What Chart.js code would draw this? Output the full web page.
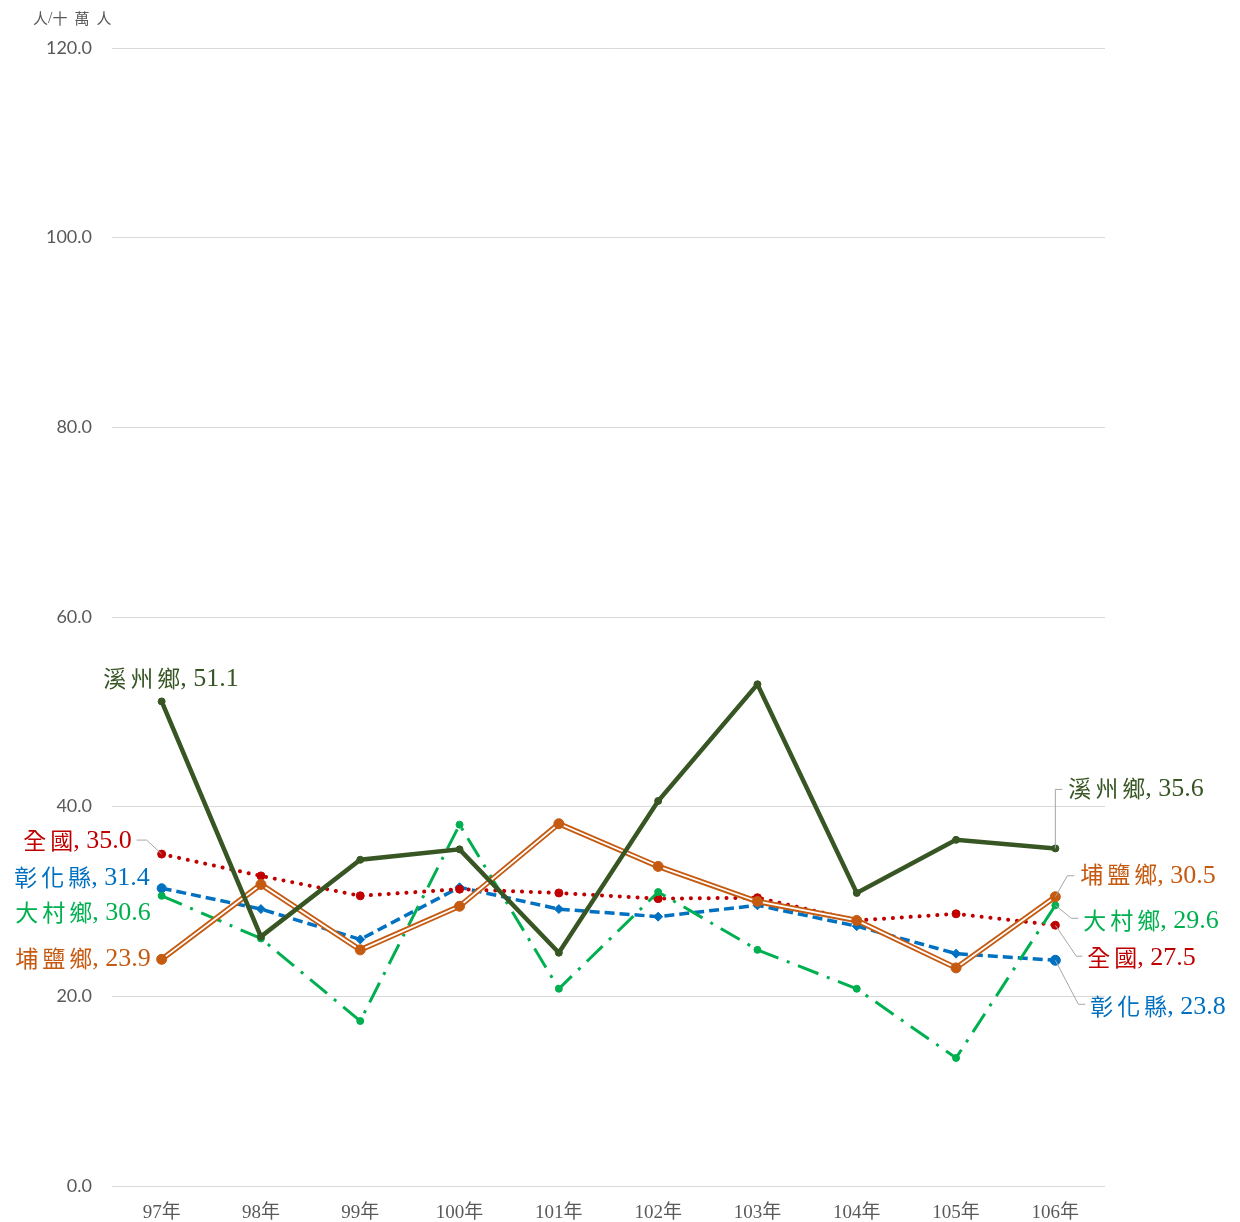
<!DOCTYPE html>
<html>
<head>
<meta charset="utf-8">
<script src="https://cdn.jsdelivr.net/npm/chart.js@4.4.1/dist/chart.umd.min.js"></script>
<style>
  html, body { margin: 0; padding: 0; background: #ffffff; }
  #wrap { width: 1240px; height: 1222px; }
</style>
</head>
<body>
<div id="wrap"><canvas id="c" width="1240" height="1222"></canvas></div>
<script>
// ---- data ----
const years = ["97年", "98年", "99年", "100年", "101年", "102年", "103年", "104年", "105年", "106年"];
const xizhou = [51.1, 26.3, 34.4, 35.5, 24.6, 40.6, 52.9, 30.9, 36.5, 35.6];   // 溪州鄉
const national = [35.0, 32.7, 30.6, 31.3, 30.9, 30.3, 30.4, 28.0, 28.7, 27.5]; // 全國
const changhua = [31.4, 29.2, 26.0, 31.5, 29.2, 28.4, 29.6, 27.4, 24.5, 23.8]; // 彰化縣
const dacun = [30.6, 26.1, 17.4, 38.1, 20.8, 31.0, 24.9, 20.8, 13.5, 29.6];    // 大村鄉
const puyan = [23.9, 31.8, 24.9, 29.5, 38.2, 33.7, 30.0, 28.0, 23.0, 30.5];    // 埔鹽鄉
const yTicks = [0, 20, 40, 60, 80, 100, 120];
const unitLabel = "人/十萬人";

const C_XZ = "#375623", C_NA = "#C00000", C_CH = "#0070C0", C_DC = "#00B050", C_PY = "#C55A11";

// ---- mixed-font text helper ----
const CJK_FONT = '"Noto Sans CJK TC", "Noto Sans CJK SC", sans-serif';
const LAT_FONT = '"Liberation Serif", "DejaVu Serif", serif';
function isCJK(ch) { return ch.charCodeAt(0) > 0x2E80; }
function layoutMixed(ctx, text, cjkSize, latSize, cjkSpace) {
  const chars = Array.from(text);
  const parts = [];
  let w = 0;
  chars.forEach((ch, k) => {
    const c = isCJK(ch);
    ctx.font = (c ? cjkSize : latSize) + 'px ' + (c ? CJK_FONT : LAT_FONT);
    const cw = ctx.measureText(ch).width;
    parts.push({ ch, c, x: w });
    w += cw;
    if (k + 1 < chars.length && (c || isCJK(chars[k + 1]))) {
      if (c && isCJK(chars[k + 1])) w += cjkSpace;
    }
  });
  return { parts, w };
}
function drawMixed(ctx, text, x, y, cjkSize, latSize, color, align, cjkSpace) {
  const L = layoutMixed(ctx, text, cjkSize, latSize, cjkSpace);
  const x0 = align === 'right' ? x - L.w : x;
  ctx.fillStyle = color;
  ctx.textBaseline = 'middle';
  ctx.textAlign = 'left';
  for (const p of L.parts) {
    ctx.font = (p.c ? cjkSize : latSize) + 'px ' + (p.c ? CJK_FONT : LAT_FONT);
    ctx.fillText(p.ch, x0 + p.x, p.c ? y : y + 1);
  }
}

// label layout: dataset index, point index, offsets, alignment, leader path (offsets from point)
const labelLayout = [
  { ds: 0, name: "溪州鄉", color: C_XZ, i: 0, dx: 77, dy: -23, align: 'right', leader: null },
  { ds: 5, name: "全國", color: C_NA, i: 0, dx: -30, dy: -14, align: 'right', leader: [[-15, -14], [-25, -14]] },
  { ds: 6, name: "彰化縣", color: C_CH, i: 0, dx: -12, dy: -11, align: 'right', leader: null },
  { ds: 4, name: "大村鄉", color: C_DC, i: 0, dx: -11, dy: 16, align: 'right', leader: null },
  { ds: 1, name: "埔鹽鄉", color: C_PY, i: 0, dx: -11, dy: -1, align: 'right', leader: null },
  { ds: 0, name: "溪州鄉", color: C_XZ, i: 9, dx: 13, dy: -60, align: 'left', leader: [[0, -59], [7, -59]] },
  { ds: 1, name: "埔鹽鄉", color: C_PY, i: 9, dx: 25, dy: -22, align: 'left', leader: [[12, -21], [19, -21]] },
  { ds: 4, name: "大村鄉", color: C_DC, i: 9, dx: 28, dy: 15, align: 'left', leader: [[16, 13], [23, 13]] },
  { ds: 5, name: "全國", color: C_NA, i: 9, dx: 32, dy: 32, align: 'left', leader: [[21, 31], [27, 31]] },
  { ds: 6, name: "彰化縣", color: C_CH, i: 9, dx: 35, dy: 46, align: 'left', leader: [[23, 44], [30, 44]] }
];

const labelPlugin = {
  id: 'labels',
  afterDatasetsDraw(chart) {
    const ctx = chart.ctx;
    ctx.save();
    for (const L of labelLayout) {
      const meta = chart.getDatasetMeta(L.ds);
      const pt = meta.data[L.i];
      const val = chart.data.datasets[L.ds].data[L.i];
      const px = pt.x, py = pt.y;
      if (L.leader) {
        ctx.strokeStyle = '#A6A6A6';
        ctx.lineWidth = 1;
        ctx.beginPath();
        ctx.moveTo(px, py);
        for (const [ox, oy] of L.leader) ctx.lineTo(px + ox, py + oy);
        ctx.stroke();
      }
      const text = L.name + ", " + val.toFixed(1);
      drawMixed(ctx, text, px + L.dx, py + L.dy, 23, 26, L.color, L.align, 4);
    }
    // unit label
    drawMixed(ctx, unitLabel, 33, 18, 15, 16, '#595959', 'left', 7);
    ctx.restore();
  }
};

const ctx = document.getElementById('c').getContext('2d');
new Chart(ctx, {
  type: 'line',
  data: {
    labels: years,
    datasets: [
      { label: "溪州鄉", data: xizhou, borderColor: C_XZ, backgroundColor: C_XZ, borderWidth: 4.5,
        pointRadius: 3.5, pointBackgroundColor: C_XZ, pointBorderColor: C_XZ, pointBorderWidth: 1, tension: 0 },
      { label: "埔鹽鄉", data: puyan, showLine: false, pointRadius: 5, pointBackgroundColor: C_PY,
        pointBorderColor: C_PY, pointBorderWidth: 1 },
      { label: "埔鹽鄉-core", data: puyan, borderColor: '#ffffff', borderWidth: 1.8, pointRadius: 0, tension: 0 },
      { label: "埔鹽鄉-line", data: puyan, borderColor: C_PY, borderWidth: 5.5, pointRadius: 0, tension: 0 },
      { label: "大村鄉", data: dacun, borderColor: C_DC, backgroundColor: C_DC, borderWidth: 3,
        borderDash: [22, 9, 3, 9], pointRadius: 3.5, pointBackgroundColor: C_DC, pointBorderColor: C_DC,
        pointBorderWidth: 1, tension: 0 },
      { label: "全國", data: national, borderColor: C_NA, backgroundColor: C_NA, borderWidth: 4,
        borderDash: [0.1, 8.8], borderCapStyle: 'round', pointRadius: 4, pointBackgroundColor: C_NA,
        pointBorderColor: C_NA, pointBorderWidth: 1, tension: 0 },
      { label: "彰化縣", data: changhua, borderColor: C_CH, backgroundColor: C_CH, borderWidth: 3.5,
        borderDash: [10, 5], tension: 0,
        pointStyle: (c) => (c.dataIndex === 0 || c.dataIndex === 9) ? 'circle' : 'rectRot',
        pointRadius: (c) => c.dataIndex === 9 ? 5 : 4.5,
        pointBorderWidth: 1,
        pointBackgroundColor: C_CH, pointBorderColor: C_CH }
    ]
  },
  options: {
    responsive: false,
    animation: false,
    devicePixelRatio: 1,
    layout: { padding: { left: 0, right: 135, top: 48, bottom: 0 } },
    plugins: { legend: { display: false }, tooltip: { enabled: false } },
    scales: {
      x: {
        offset: true,
        grid: { display: false, drawTicks: false },
        border: { display: false },
        ticks: { color: '#595959', padding: 16, font: { family: '"Liberation Serif", "Noto Sans CJK TC", serif', size: 19 } },
        afterFit(scale) { scale.height = 36; }
      },
      y: {
        min: 0, max: 120,
        afterBuildTicks(scale) { scale.ticks = yTicks.map(v => ({ value: v })); },
        grid: { color: '#D9D9D9', lineWidth: 1, drawTicks: false },
        border: { display: false },
        ticks: { color: '#595959', padding: 20, font: { family: 'Lato, "Open Sans", sans-serif', size: 18 },
          callback: (v) => Number(v).toFixed(1) },
        afterFit(scale) { scale.width = 112; }
      }
    }
  },
  plugins: [labelPlugin]
});
</script>
</body>
</html>
